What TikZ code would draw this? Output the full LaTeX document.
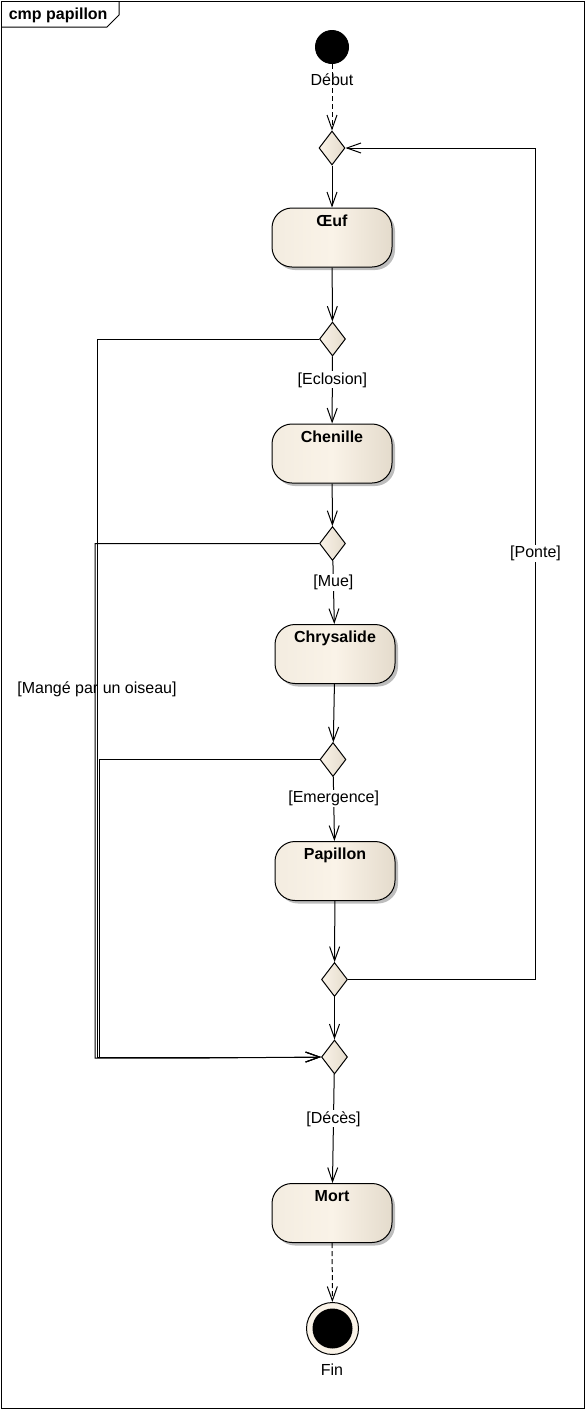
\documentclass[tikz,border=0pt]{standalone}
\usepackage{fontspec}
\setmainfont{Liberation Sans}
\usetikzlibrary{shapes.geometric,arrows.meta,shadows}
\definecolor{creamA}{HTML}{F3ECE0}
\definecolor{creamB}{HTML}{FAF3E8}
\definecolor{creamC}{HTML}{E4DBCC}
\definecolor{shadowgray}{HTML}{BDBDBD}
\tikzset{
  basefont/.style={font=\fontsize{16}{19}\selectfont},
  action/.style={draw, rounded corners=20pt, minimum width=120pt, inner xsep=4pt, inner ysep=0pt,
    text height=18pt, text depth=41pt, font=\fontsize{16}{19}\selectfont\bfseries,
    left color=creamA, right color=creamC, middle color=creamB,
    drop shadow={shadow xshift=3pt, shadow yshift=-3pt, fill=shadowgray, opacity=1}},
  decision/.style={diamond, draw, minimum width=26pt, minimum height=34pt, inner sep=0pt,
    left color=creamB, right color=creamC},
  initstate/.style={circle, draw, fill=black, minimum size=33pt, inner sep=0pt},
  finalstate/.style={circle, draw, fill=creamB, minimum size=52pt, inner sep=0pt,
    path picture={\fill[black] (path picture bounding box.center) circle (20pt);}},
  guard/.style={fill=white, inner sep=1pt},
  flow/.style={->},
  dflow/.style={->, dash pattern=on 5pt off 3pt},
}
\begin{document}
\begin{tikzpicture}[x=1pt, y=-1pt, line width=1pt, basefont,
  >={Straight Barb[length=14pt,width=10pt]}]
\useasboundingbox (0,0) rectangle (585,1409);
% frame
\draw (1,1) rectangle (584,1408);
\draw (1,27) -- (107,27) -- (119,15) -- (119,1);
\node[anchor=base west, font=\fontsize{16}{19}\selectfont\bfseries] (title) at (5,19) {cmp papillon};

% nodes
\node[initstate] (init) at (332,47) {};
\node[anchor=base] (debut) at (332,85) {Début};
\node[decision] (d1) at (332,148) {};
\node[action] (oeuf) at (332,237.5) {Œuf};
\node[decision] (d2) at (332.5,339) {};
\node[action] (chen) at (332,453.5) {Chenille};
\node[decision] (d3) at (332.5,543.5) {};
\node[action] (chrys) at (335,654) {Chrysalide};
\node[decision] (d4) at (333,759.5) {};
\node[action] (pap) at (335,871) {Papillon};
\node[decision] (d5) at (334.5,979.5) {};
\node[decision] (merge) at (334.5,1057) {};
\node[action] (mort) at (332,1213) {Mort};
\node[finalstate] (fin) at (332.5,1328.5) {};
\node[anchor=base] (finlbl) at (332,1375) {Fin};

% connectors
\draw[dflow] (init) -- (d1);
\draw[flow] (d1) -- (oeuf);
\draw[flow] (oeuf) -- (d2);
\draw[flow] (d2) -- node[guard, pos=0.35] {[Eclosion]} (chen);
\draw[flow] (chen) -- (d3);
\draw[flow] (d3) -- node[guard, pos=0.34] {[Mue]} (chrys);
\draw[flow] (chrys) -- (d4);
\draw[flow] (d4) -- node[guard, pos=0.34] {[Emergence]} (pap);
\draw[flow] (pap) -- (d5);
\draw[flow] (d5) -- (merge);
\draw[flow] (merge) -- node[guard, pos=0.41] {[Décès]} (mort);
\draw[dflow] (mort) -- (fin);

\draw[flow] (d5.east) -- (535.5,979.5) |- node[guard, pos=0.256] {[Ponte]} (d1.east);

\draw[flow] (d2.west) -| node[pos=0.744] {[Mangé par un oiseau]} (97,1057) -- (merge.west);
\draw[flow] (d3.west) -| (95,1058) -- (208,1058) -- (merge.west);
\draw[flow] (d4.west) -| (99.5,1057) -- (merge.west);
\end{tikzpicture}
\end{document}
